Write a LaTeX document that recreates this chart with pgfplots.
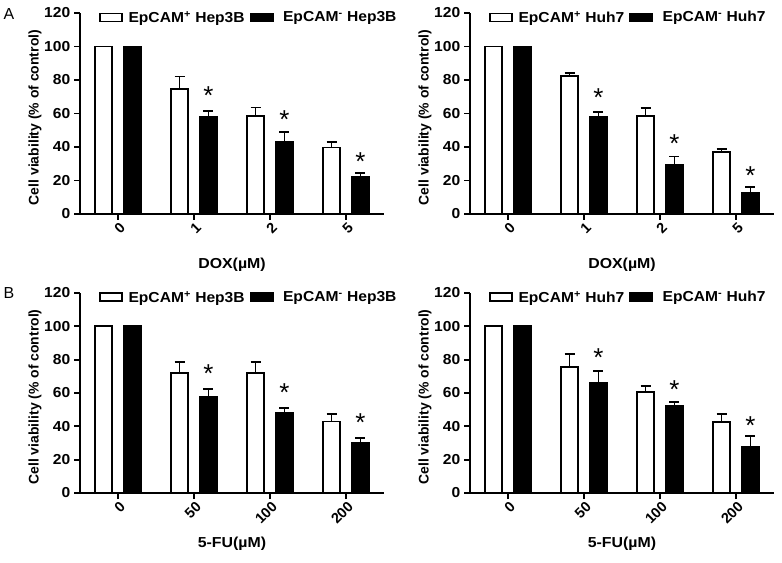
\documentclass[border=0pt]{standalone}
\usepackage{fontspec}
\setmainfont{Liberation Sans}
\usepackage{pgfplots}
\pgfplotsset{compat=1.18}

\newcommand\lbl{\fontsize{14.5}{17}\selectfont\bfseries}
\newcommand\sig{\fontsize{26}{26}\selectfont *}

\pgfplotsset{
  viab/.style={
    scale only axis, width=304bp, height=201bp, anchor=south west,
    xmin=-0.5, xmax=3.5, ymin=0, ymax=120,
    xtick={0,1,2,3}, ytick={0,20,...,120},
    axis x line*=bottom, axis y line*=left,
    axis line style={line width=1.8bp, -},
    every tick/.style={black, line width=1.8bp},
    tick align=outside, major tick length=6bp,
    /pgf/number format/assume math mode=true,
    tick label style={font=\lbl},
    yticklabel style={xscale=1.08},
    xticklabel style={rotate=45, anchor=east, xshift=3bp, yshift=-7bp},
    ylabel={Cell viability (\% of control)},
    ylabel style={at={(axis description cs:-0.148,0.48)}, anchor=center,
      font=\fontsize{14}{17}\selectfont\bfseries},
    xlabel style={at={(axis description cs:0.5,-0.254)}, anchor=center, font=\lbl, xscale=1.1},
    legend style={at={(axis description cs:0.053,0.978)}, anchor=west,
      draw=none, fill=none, legend columns=2, font=\lbl,
      nodes={xscale=1.08},
      /tikz/every even column/.append style={column sep=3bp}},
  },
  ebar/.style={error bars/.cd, y dir=plus, y explicit, error mark=-,
    error bar style={line width=1.8bp, black},
    error mark options={line width=1.8bp, mark size=5bp, black, rotate=90}},
  pos/.style={ybar, bar width=17bp, bar shift=0pt, fill=white, draw=black,
    line width=1.8bp, forget plot, ebar},
  neg/.style={ybar, bar width=17bp, bar shift=0pt, fill=black, draw=black,
    line width=1.8bp, forget plot, ebar},
  stars/.style={draw=none, mark=none, forget plot, nodes near coords=\sig,
    nodes near coords align={center},
    every node near coord/.append style={yshift=-6bp, inner sep=0pt}},
}

\newcommand\legpos{\addlegendimage{legend image code/.code={\draw[line width=1.8bp, draw=black, fill=white] (0bp,-4bp) rectangle (22bp,4bp); \path (26bp,0bp);}}}
\newcommand\legneg{\addlegendimage{legend image code/.code={\draw[line width=1.8bp, draw=black, fill=black] (0bp,-4bp) rectangle (22bp,4bp); \path (30bp,0bp);}}}

\begin{document}
\begin{tikzpicture}
\useasboundingbox (0,0) rectangle (782bp,563bp);

% A, Hep3B
\begin{axis}[viab, at={(80bp,349bp)}, xticklabels={0,1,2,5}, xlabel={DOX(µM)}]
\legpos \addlegendentry{EpCAM\textsuperscript{+} Hep3B}
\legneg \addlegendentry{EpCAM\textsuperscript{-} Hep3B}
\addplot[pos] coordinates {(-0.19,100) +- (0,0) (0.81,74.5) +- (0,7.6) (1.81,58.6) +- (0,5.0) (2.81,39.7) +- (0,3.2)};
\addplot[neg] coordinates {(0.19,100) +- (0,0) (1.19,57.8) +- (0,3.8) (2.19,42.9) +- (0,5.9) (3.19,22.3) +- (0,2.0)};
\addplot[stars] coordinates {(1.19,74.1) (2.19,60.2) (3.19,34.7)};
\end{axis}

% A, Huh7
\begin{axis}[viab, at={(470bp,349bp)}, xticklabels={0,1,2,5}, xlabel={DOX(µM)}]
\legpos \addlegendentry{EpCAM\textsuperscript{+} Huh7}
\legneg \addlegendentry{EpCAM\textsuperscript{-} Huh7}
\addplot[pos] coordinates {(-0.19,100) +- (0,0) (0.81,82.5) +- (0,1.6) (1.81,58.6) +- (0,4.6) (2.81,36.9) +- (0,1.8)};
\addplot[neg] coordinates {(0.19,100) +- (0,0) (1.19,57.8) +- (0,3.0) (2.19,29.3) +- (0,5.0) (3.19,12.8) +- (0,3.5)};
\addplot[stars] coordinates {(1.19,73.1) (2.19,45.8) (3.19,26.7)};
\end{axis}

% B, Hep3B
\begin{axis}[viab, at={(80bp,70bp)}, height=200bp, xticklabels={0,50,100,200}, xlabel={5-FU(µM)}]
\legpos \addlegendentry{EpCAM\textsuperscript{+} Hep3B}
\legneg \addlegendentry{EpCAM\textsuperscript{-} Hep3B}
\addplot[pos] coordinates {(-0.19,100) +- (0,0) (0.81,72.2) +- (0,6.5) (1.81,72.2) +- (0,6.5) (2.81,42.9) +- (0,4.3)};
\addplot[neg] coordinates {(0.19,100) +- (0,0) (1.19,57.8) +- (0,4.4) (2.19,48.2) +- (0,2.6) (3.19,29.9) +- (0,3.0)};
\addplot[stars] coordinates {(1.19,75.3) (2.19,63.8) (3.19,45.6)};
\end{axis}

% B, Huh7
\begin{axis}[viab, at={(470bp,70bp)}, height=200bp, xticklabels={0,50,100,200}, xlabel={5-FU(µM)}]
\legpos \addlegendentry{EpCAM\textsuperscript{+} Huh7}
\legneg \addlegendentry{EpCAM\textsuperscript{-} Huh7}
\addplot[pos] coordinates {(-0.19,100) +- (0,0) (0.81,75.7) +- (0,7.6) (1.81,60.8) +- (0,3.4) (2.81,42.7) +- (0,4.9)};
\addplot[neg] coordinates {(0.19,100) +- (0,0) (1.19,65.8) +- (0,7.3) (2.19,52.2) +- (0,2.4) (3.19,27.9) +- (0,6.4)};
\addplot[stars] coordinates {(1.19,85.1) (2.19,65.8) (3.19,44.2)};
\end{axis}

\node[font=\fontsize{16}{16}\selectfont] at (9bp,549bp) {A};
\node[font=\fontsize{16}{16}\selectfont] at (9bp,270bp) {B};
\end{tikzpicture}
\end{document}
